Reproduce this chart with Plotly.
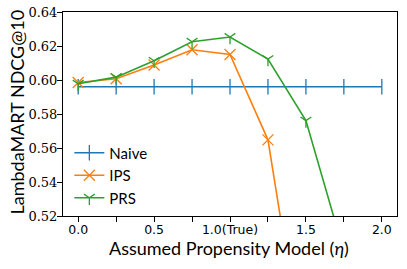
import plotly.graph_objects as go

eta = [0.0, 0.25, 0.5, 0.75, 1.0, 1.25, 1.5, 1.75, 2.0]
naive = [0.596, 0.596, 0.596, 0.596, 0.596, 0.596, 0.596, 0.596, 0.596]
ips = [0.5985, 0.6007, 0.6088, 0.6178, 0.6150, 0.5648, 0.426, 0.35, 0.30]
prs = [0.5978, 0.6017, 0.6113, 0.6225, 0.6253, 0.6123, 0.5761, 0.499, 0.45]

xtick_vals = [0.0, 0.25, 0.5, 0.75, 1.0, 1.25, 1.5, 1.75, 2.0]
xtick_text = ["0.0", "", "0.5", "", "1.0(True)", "", "1.5", "", "2.0"]
ytick_vals = [0.52, 0.54, 0.56, 0.58, 0.60, 0.62, 0.64]
ytick_text = ["0.52", "0.54", "0.56", "0.58", "0.60", "0.62", "0.64"]

blue, orange, green = "#1f77b4", "#ff7f0e", "#2ca02c"

fig = go.Figure()
fig.add_trace(go.Scatter(x=eta, y=naive, name="Naive", mode="lines+markers",
                         line=dict(color=blue, width=1.6),
                         marker=dict(symbol="line-ns", size=11,
                                     line=dict(color=blue, width=1.3))))
fig.add_trace(go.Scatter(x=eta, y=ips, name="IPS", mode="lines+markers",
                         line=dict(color=orange, width=1.6),
                         marker=dict(symbol="x-thin", size=11,
                                     line=dict(color=orange, width=1.3))))
fig.add_trace(go.Scatter(x=eta, y=prs, name="PRS", mode="lines+markers",
                         line=dict(color=green, width=1.6),
                         marker=dict(symbol="y-down", size=9,
                                     line=dict(color=green, width=1.3))))

sans = "Lato"
serif = "DejaVu Serif"

fig.update_layout(
    width=407, height=269,
    margin=dict(l=63, r=10, t=12, b=53, autoexpand=False),
    plot_bgcolor="white", paper_bgcolor="white",
    showlegend=True,
    legend=dict(x=0.019, y=0.39, xanchor="left", yanchor="top",
                bgcolor="rgba(255,255,255,0)", borderwidth=0,
                font=dict(family=sans, size=15, color="black"),
                tracegroupgap=0, itemwidth=30),
    xaxis=dict(range=[-0.1, 2.1], tickmode="array", tickvals=xtick_vals,
               ticktext=xtick_text, ticks="outside", ticklen=5, tickwidth=1,
               tickcolor="black", showline=True, linecolor="black",
               linewidth=1, mirror=True, showgrid=False, zeroline=False,
               automargin=False, ticklabelstandoff=-3,
               ticklabeloverflow="allow",
               tickfont=dict(family="DejaVu Sans", size=12.5, color="black")),
    yaxis=dict(range=[0.52, 0.64], tickmode="array", tickvals=ytick_vals,
               ticktext=ytick_text, ticks="outside", ticklen=5, tickwidth=1,
               tickcolor="black", showline=True, linecolor="black",
               linewidth=1, mirror=True, showgrid=False, zeroline=False,
               automargin=False, ticklabelstandoff=-3,
               ticklabeloverflow="allow",
               tickfont=dict(family=serif, size=13, color="black")),
    annotations=[
        dict(text="Assumed Propensity Model (<i>η</i>)", xref="paper",
             yref="paper", x=0.4985, y=-0.157, xanchor="center",
             yanchor="middle", showarrow=False,
             font=dict(family=sans, size=18, color="black")),
        dict(text="LambdaMART NDCG@10", xref="paper", yref="paper",
             x=-0.138, y=0.512, xanchor="center", yanchor="middle",
             textangle=-90, showarrow=False,
             font=dict(family=sans, size=18, color="black")),
    ],
)

fig.write_html("out.html", config={"displayModeBar": False},
               post_script="document.body.style.margin='0px';")
